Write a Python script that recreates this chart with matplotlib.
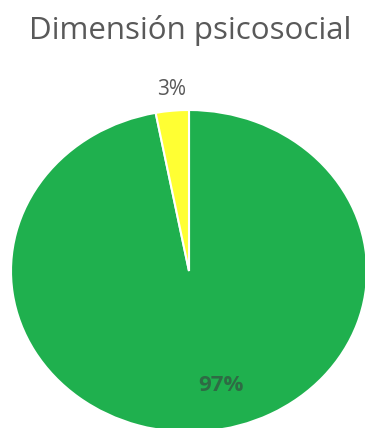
import matplotlib.pyplot as plt

# Dimensión psicosocial: porcentaje por nivel
categorias = ["Adecuado", "Inadecuado"]
porcentajes = [97, 3]
colores = ["#1fb04e", "#ffff33"]

fig = plt.figure(figsize=(3.65, 4.28), dpi=100)
fig.patch.set_facecolor("white")

# axes a little wider than tall, pie is slightly flattened
ax = fig.add_axes([11 / 365, -4 / 428, 356 / 365, 322 / 428])
wedges, _ = ax.pie(porcentajes, colors=colores, startangle=90, counterclock=False,
                   wedgeprops=dict(edgecolor="white", linewidth=1.5))
ax.set_aspect("auto")
ax.set_xlim(-1, 1)
ax.set_ylim(-1, 1)
ax.axis("off")

# data labels
ax.text(-0.10, 1.13, f"{porcentajes[1]}%", ha="center", va="center",
        fontsize=15, color="#595959", family="Open Sans")
ax.text(0.18, -0.71, f"{porcentajes[0]}%", ha="center", va="center",
        fontsize=16, color="#2e6b44", family="Open Sans", fontweight="bold")

fig.text(190 / 365, 1 - 31 / 428, "Dimensión psicosocial", ha="center", va="center",
         fontsize=22.5, color="#595959", family="Open Sans")

fig.savefig("out.png", dpi=100)
